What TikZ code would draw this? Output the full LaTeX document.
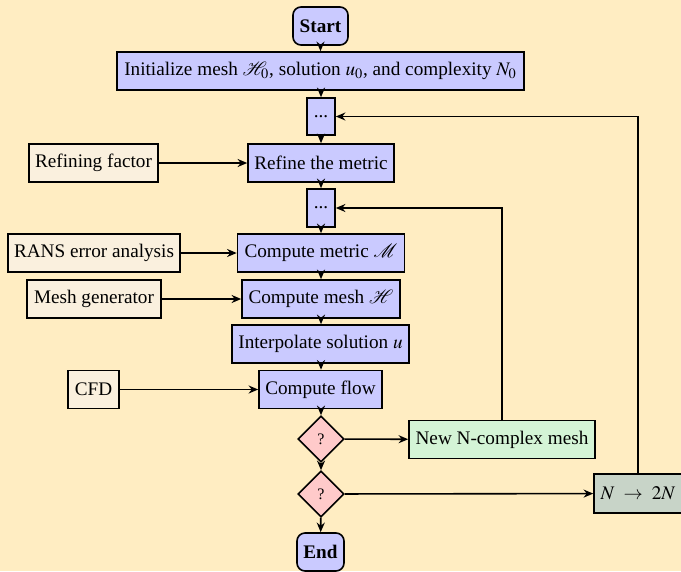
\documentclass[tikz,border=0pt]{standalone}
\usepackage{mathptmx}
\usepackage{mathrsfs}
\usepackage{fontspec}
\setmainfont{Liberation Serif}
\usetikzlibrary{shapes.geometric,arrows.meta}
\definecolor{bg}{RGB}{255,237,194}
\definecolor{mainc}{RGB}{202,202,255}
\definecolor{inc}{RGB}{250,240,222}
\definecolor{newc}{RGB}{212,244,214}
\definecolor{dblc}{RGB}{200,212,200}
\definecolor{qc}{RGB}{255,202,202}
\tikzset{
  x=0.625pt, y=-0.625pt,
  base/.style={draw=black, line width=1pt, font=\fontsize{12pt}{14pt}\selectfont, inner sep=0pt, minimum height=23.75pt},
  wpx/.style={minimum width=#1*0.625pt},
  hpx/.style={minimum height=#1*0.625pt},
  proc/.style={base, fill=mainc},
  inp/.style={base, fill=inc},
  term/.style={base, fill=mainc, rounded corners=5pt, font=\fontsize{12pt}{14pt}\selectfont\bfseries},
  dec/.style={draw=black, line width=1pt, fill=qc, diamond, aspect=1, inner sep=0pt, minimum width=46*0.625pt, minimum height=46*0.625pt, font=\fontsize{10pt}{12pt}\selectfont},
  arr/.style={draw=black, line width=1pt, -{Stealth[length=6pt,width=5pt]}},
}
\begin{document}
\begin{tikzpicture}
\fill[bg] (0,0) rectangle (681,571);
\useasboundingbox (0,0) rectangle (681,571);

\node[term, wpx=55, hpx=38] (start) at (320.5,26) {Start};
\node[proc, wpx=407] (init) at (320.5,71) {Initialize mesh $\mathscr{H}_0$, solution $u_0$, and complexity $N_0$};
\node[proc, wpx=28, hpx=37] (d1) at (321,116.5) {...};
\node[proc, wpx=146] (refine) at (321,163) {Refine the metric};
\node[inp, wpx=129] (rf) at (93.5,163) {Refining factor};
\node[proc, wpx=28, hpx=38] (d2) at (321,208) {...};
\node[proc, wpx=167] (metric) at (321,253) {Compute metric $\mathscr{M}$};
\node[inp, wpx=172] (rans) at (94,253) {RANS error analysis};
\node[proc, wpx=158] (mesh) at (321,299) {Compute mesh $\mathscr{H}$};
\node[inp, wpx=134] (mg) at (94,299) {Mesh generator};
\node[proc, wpx=177] (interp) at (320.5,344) {Interpolate solution $u$};
\node[proc, wpx=123] (flow) at (320.5,389.5) {Compute flow};
\node[inp, wpx=51] (cfd) at (93.5,389.5) {CFD};
\node[dec] (q1) at (321,439) {?};
\node[proc, fill=newc, wpx=186] (new) at (502,439.5) {New N-complex mesh};
\node[dec] (q2) at (321,494) {?};
\node[proc, fill=dblc, wpx=88, hpx=39] (n2n) at (638,493.5) {$N\ \rightarrow\ 2N$};
\node[term, wpx=47, hpx=38] (end) at (320.5,552) {End};

\draw[arr] (start) -- (start |- init.north);
\draw[arr] (init.south -| d1) -- (d1);
\draw[arr] (d1) -- (refine.north -| d1);
\draw[arr] (refine.south -| d2) -- (d2);
\draw[arr] (d2) -- (metric.north -| d2);
\draw[arr] (metric.south -| d2) -- (mesh.north -| d2);
\draw[arr] (mesh.south -| d2) -- (interp.north -| d2);
\draw[arr] (interp.south -| d2) -- (flow.north -| d2);
\draw[arr] (flow.south -| d2) -- (q1);
\draw[arr] (q1) -- (q2);
\draw[arr] (q2) -- (end);
\draw[arr] (rf) -- (refine);
\draw[arr] (rans) -- (metric);
\draw[arr] (mg) -- (mesh);
\draw[arr] (cfd) -- (flow);
\draw[arr] (q1) -- (new);
\draw[arr] (q2) -- (n2n);
\draw[arr] (new.north) |- (d2.east);
\draw[arr] (n2n.north) |- (d1.east);
\end{tikzpicture}
\end{document}
